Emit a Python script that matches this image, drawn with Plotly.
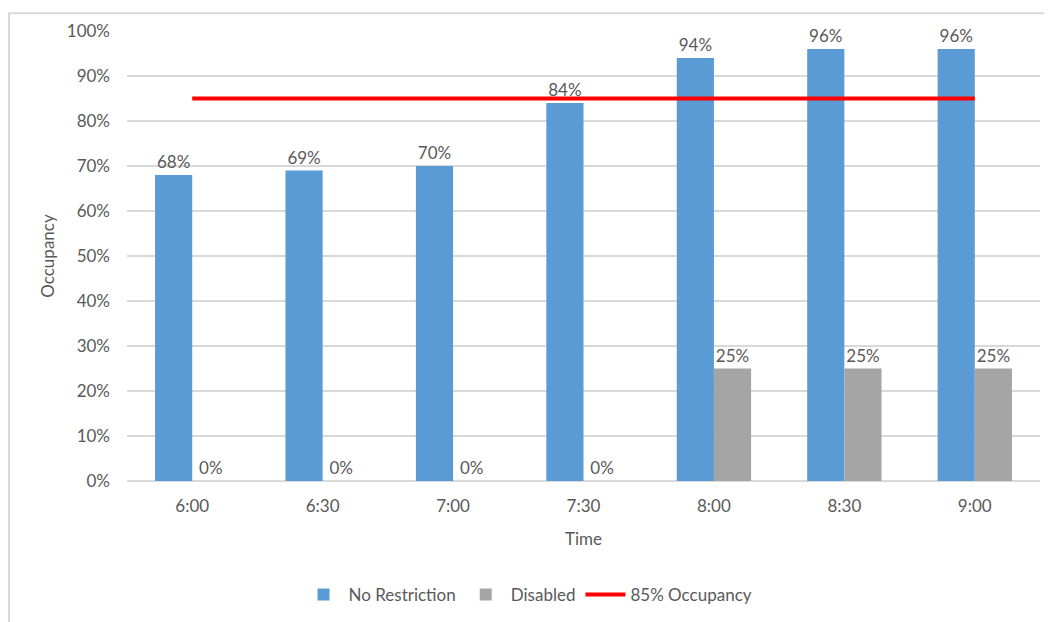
import plotly.graph_objects as go

times = ["6:00", "6:30", "7:00", "7:30", "8:00", "8:30", "9:00"]
no_restriction = [0.68, 0.69, 0.70, 0.84, 0.94, 0.96, 0.96]
disabled = [0.0, 0.0, 0.0, 0.0, 0.25, 0.25, 0.25]
target = [0.85] * len(times)
y_ticks = [0, 0.1, 0.2, 0.3, 0.4, 0.5, 0.6, 0.7, 0.8, 0.9, 1.0]

FONT = "Lato, Open Sans, sans-serif"
TXT = "#595959"
FS = 17

# page body has an 8px default margin, so margins are reduced by 8px
ML, MT, MR, MB = 119, 19, 20, 149
PW = 1052 - ML - MR
PH = 622 - MT - MB

fig = go.Figure()
fig.add_trace(go.Bar(
    x=times, y=no_restriction, name="No Restriction",
    marker=dict(color="#5b9bd5", line=dict(width=0)),
    texttemplate="%{y:.0%}", textposition="outside",
    textfont=dict(color=TXT, size=FS, family=FONT), cliponaxis=False,
))
fig.add_trace(go.Bar(
    x=times, y=disabled, name="Disabled",
    marker=dict(color="#a5a5a5", line=dict(width=0)),
    texttemplate="%{y:.0%}", textposition="outside",
    textfont=dict(color=TXT, size=FS, family=FONT), cliponaxis=False,
))
fig.add_trace(go.Scatter(
    x=times, y=target, name="85% Occupancy", mode="lines",
    line=dict(color="#ff0000", width=4), cliponaxis=False,
))

fig.update_layout(
    width=1052, height=622,
    margin=dict(l=ML, r=MR, t=MT, b=MB),
    paper_bgcolor="white", plot_bgcolor="white",
    font=dict(family=FONT, color=TXT, size=FS),
    barmode="group", bargap=0.43, bargroupgap=0,
    showlegend=True,
    legend=dict(orientation="h", x=(528 - 127) / PW, xanchor="center",
                y=(481 - 596) / PH, yanchor="middle",
                font=dict(size=FS, color=TXT), traceorder="normal",
                itemwidth=40),
    xaxis=dict(
        title=dict(text="Time", font=dict(size=FS, color=TXT), standoff=18),
        showgrid=False, showline=False, ticks="", zeroline=False,
        tickfont=dict(size=FS, color=TXT), ticklabelstandoff=13,
    ),
    yaxis=dict(
        title=dict(text="Occupancy", font=dict(size=FS, color=TXT), standoff=7),
        range=[0, 1], tickvals=y_ticks, tickformat=".0%",
        showgrid=True, gridcolor="#d9d9d9", gridwidth=1.5,
        zeroline=True, zerolinecolor="#d9d9d9", zerolinewidth=1.5,
        showline=False, ticks="", tickfont=dict(size=FS, color=TXT),
        ticklabelstandoff=16,
    ),
    shapes=[dict(type="rect", xref="paper", yref="paper",
                 x0=-(ML - 1) / PW, x1=1.2, y0=-0.6, y1=1 + (MT - 1) / PH,
                 line=dict(color="#d9d9d9", width=2), layer="below")],
)

fig.write_html("out.html")
